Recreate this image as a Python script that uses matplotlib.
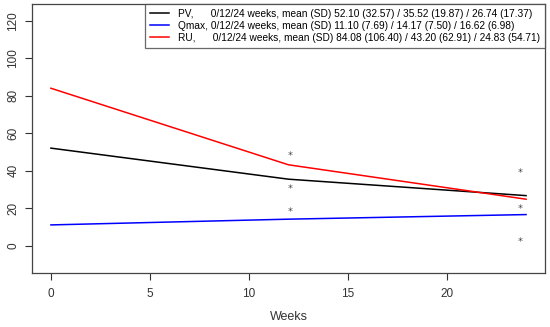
import matplotlib
matplotlib.use("Agg")
import matplotlib.pyplot as plt

plt.rcParams['font.family'] = ['Liberation Sans', 'DejaVu Sans']

weeks = [0, 12, 24]
pv = [52.10, 35.52, 26.74]
qmax = [11.10, 14.17, 16.62]
ru = [84.08, 43.20, 24.83]

labels = [
    "PV,      0/12/24 weeks, mean (SD) 52.10 (32.57) / 35.52 (19.87) / 26.74 (17.37)",
    "Qmax, 0/12/24 weeks, mean (SD) 11.10 (7.69) / 14.17 (7.50) / 16.62 (6.98)",
    "RU,      0/12/24 weeks, mean (SD) 84.08 (106.40) / 43.20 (62.91) / 24.83 (54.71)",
]

# significance stars
star_x = [12.1, 12.1, 12.1, 23.7, 23.7, 23.7]
star_y = [49.7, 32.0, 19.8, 40.3, 21.2, 3.7]

fig = plt.figure(figsize=(5.5, 3.27), dpi=100)
ax = fig.add_axes([0.058, 0.165, 0.933, 0.823])

ax.plot(weeks, pv, color="black", lw=1.1, label=labels[0])
ax.plot(weeks, qmax, color="blue", lw=1.1, label=labels[1])
ax.plot(weeks, ru, color="red", lw=1.1, label=labels[2])

ax.plot(star_x, star_y, ls="none", marker="$*$", markersize=3.2, mew=0, color="#444444")

ax.set_xlim(-0.96, 24.96)
ax.set_ylim(-14.6, 129.1)
ax.set_xticks([0, 5, 10, 15, 20])
ax.set_yticks([0, 20, 40, 60, 80, 100, 120])
ax.tick_params(direction="out", length=5, width=0.8, labelsize=8.5, colors="#333333")
for lab in ax.get_yticklabels():
    lab.set_rotation(90)
    lab.set_va("center")
ax.tick_params(axis="x", pad=6)
ax.tick_params(axis="y", pad=4)
for s in ax.spines.values():
    s.set_color("#444444")
    s.set_linewidth(0.9)

ax.set_xlabel("Weeks", fontsize=9, labelpad=8, color="#333333")

leg = ax.legend(loc="upper right", fontsize=7.25, fancybox=False, borderaxespad=0,
                handlelength=1.9, handletextpad=0.9, borderpad=0.5, labelspacing=0.2)
leg.get_frame().set_edgecolor("#444444")
leg.get_frame().set_linewidth(0.9)

fig.savefig("out.png", dpi=100)
